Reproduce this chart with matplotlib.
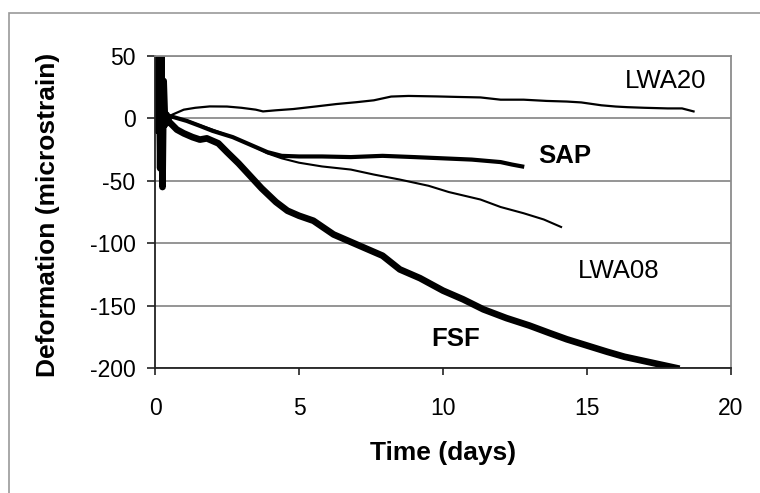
import matplotlib
matplotlib.use("Agg")
import matplotlib.pyplot as plt
from matplotlib.patches import Rectangle

plt.rcParams['font.family'] = ['Liberation Sans', 'DejaVu Sans']
plt.rcParams['axes.unicode_minus'] = False

# FSF: thick noisy curve, with the start-up spike
fsf_x = [0, 0.06, 0.1, 0.14, 0.18, 0.22, 0.26, 0.3, 0.35, 0.4, 0.5, 0.76, 1.0, 1.3,
         1.56, 1.8, 2.0, 2.2, 2.5, 2.9, 3.3, 3.7, 4.2, 4.6, 5.0, 5.5, 6.2, 7.0, 7.9,
         8.5, 9.2, 10.0, 10.7, 11.4, 12.2, 13.0, 13.7, 14.3, 15.0, 15.7, 16.3, 16.9,
         17.5, 18.1]
fsf_y = [0, 55, -10, 60, -40, 58, -55, 30, -5, 3, -3, -9, -12, -15,
         -17, -16, -18, -20, -27, -36, -46, -56, -67, -74, -78, -82, -93, -101, -110,
         -121, -128, -138, -145, -153, -160, -166, -172, -177, -182, -187, -191, -194,
         -197, -200]

sap_x = [0.3, 0.5, 0.8, 1.1, 1.56, 2.0, 2.7, 3.3, 3.9, 4.4, 5.0, 5.8, 6.8, 7.9,
         9.0, 10.0, 11.0, 12.0, 12.4, 12.75]
sap_y = [-3, 2, 0, -2, -6, -10, -15, -21, -27, -30, -30.5, -30.5, -31, -30,
         -31, -32, -33, -35, -37, -38.5]

lwa08_x = [0.3, 0.5, 0.8, 1.1, 1.5, 2.0, 2.7, 3.3, 3.9, 4.4, 5.0, 5.8, 6.8, 7.6,
           8.5, 9.5, 10.2, 11.3, 12.0, 12.8, 13.5, 14.1]
lwa08_y = [-3, 1, 0, -1.5, -5, -9, -15, -21, -28, -32, -35.5, -38.5, -41, -45,
           -49, -54, -59, -65, -71, -76, -81, -87]

lwa20_x = [0.05, 0.12, 0.2, 0.3, 0.45, 0.6, 0.8, 1.0, 1.4, 1.9, 2.5, 3.0, 3.5, 3.75,
           4.2, 4.8, 5.6, 6.3, 7.0, 7.6, 8.2, 8.8, 9.8, 10.5, 11.3, 12.0, 12.8,
           13.6, 14.3, 14.8, 15.5, 16.0, 16.4, 17.0, 17.8, 18.3, 18.7]
lwa20_y = [60, -30, 45, -5, 0, 3, 5, 7, 8.5, 9.6, 9.5, 8.5, 7, 5.6,
           6.5, 7.5, 9.6, 11.5, 13, 14.5, 17.5, 18, 17.6, 17.2, 16.8, 15, 15,
           14, 13.5, 12.8, 10.5, 9.5, 9, 8.5, 8, 8, 5.6]

x_ticks = [0, 5, 10, 15, 20]
y_ticks = [50, 0, -50, -100, -150, -200]

fig = plt.figure(figsize=(7.6, 4.93), dpi=100)
ax = fig.add_axes([155 / 760, 1 - 368 / 493, 576 / 760, 312 / 493])

ax.plot(lwa20_x, lwa20_y, color='black', lw=1.6)
ax.plot(lwa08_x, lwa08_y, color='black', lw=1.5)
ax.plot(sap_x, sap_y, color='black', lw=3.0)
ax.plot(fsf_x, fsf_y, color='black', lw=4.8)

ax.set_xlim(0, 20)
ax.set_ylim(-200, 50)
ax.set_xticks(x_ticks)
ax.set_yticks(y_ticks)
ax.yaxis.grid(True, color='#8c8c8c', lw=1.3)
ax.set_axisbelow(True)

for side in ['top', 'right']:
    ax.spines[side].set_color('#8c8c8c')
    ax.spines[side].set_linewidth(1.3)
for side in ['left', 'bottom']:
    ax.spines[side].set_color('#222222')
    ax.spines[side].set_linewidth(1.3)

ax.tick_params(axis='x', length=5, width=1.2, pad=16, labelsize=16.5, color='#222222')
ax.tick_params(axis='y', length=6, width=1.2, pad=8, labelsize=16.5, color='#222222')

ax.set_xlabel('Time (days)', fontsize=19, fontweight='bold')
ax.xaxis.set_label_coords(0.5, -0.235)
ax.set_ylabel('Deformation (microstrain)', fontsize=19, fontweight='bold', va='center')
ax.yaxis.set_label_coords(-0.186, 0.49)

# curve names
ax.text(16.3, 29.6, 'LWA20', fontsize=18.5, va='center')
ax.text(13.3, -30, 'SAP', fontsize=18.5, fontweight='bold', va='center')
ax.text(14.7, -122, 'LWA08', fontsize=18.5, va='center')
ax.text(9.6, -177, 'FSF', fontsize=18.5, fontweight='bold', va='center')

# grey frame round the picture
fig.add_artist(Rectangle((8.5 / 760, -0.1), 2, 1 - 13.5 / 493 + 0.1, fill=False,
                         ec='#999999', lw=1.2, transform=fig.transFigure))

fig.savefig('out.png', dpi=100)
